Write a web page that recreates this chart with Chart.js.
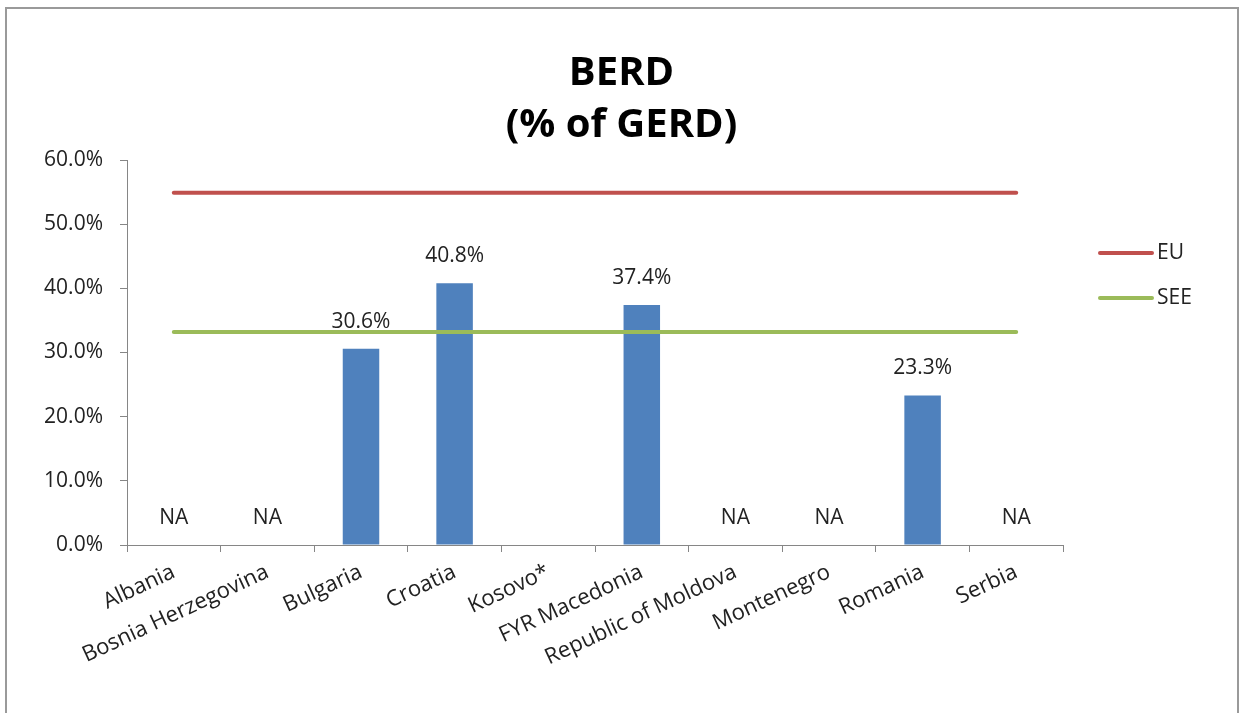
<!DOCTYPE html>
<html>
<head>
<meta charset="utf-8">
<title>BERD (% of GERD)</title>
<script src="https://cdn.jsdelivr.net/npm/chart.js@4.4.1/dist/chart.umd.min.js"></script>
<style>
  html, body { margin: 0; padding: 0; background: #fff; overflow: hidden; }
  .frame {
    position: absolute; left: 5px; top: 7px; width: 1230px; height: 720px;
    border: 2px solid #9a9a9a; border-bottom: none;
  }
  .wrap { position: absolute; left: 0; top: 0; width: 1243px; height: 713px; }
</style>
</head>
<body>
<div class="frame"></div>
<div class="wrap"><canvas id="berdChart"></canvas></div>
<script>
// categories and values
const countries = ['Albania', 'Bosnia Herzegovina', 'Bulgaria', 'Croatia', 'Kosovo*',
  'FYR Macedonia', 'Republic of Moldova', 'Montenegro', 'Romania', 'Serbia'];
const berdValues = [null, null, 30.6, 40.8, null, 37.4, null, null, 23.3, null];
const berdLabels = ['NA', 'NA', '30.6%', '40.8%', '', '37.4%', 'NA', 'NA', '23.3%', 'NA'];
const euValues = [54.9, 54.9, 54.9, 54.9, 54.9, 54.9, 54.9, 54.9, 54.9, 54.9];
const seeValues = [33.2, 33.2, 33.2, 33.2, 33.2, 33.2, 33.2, 33.2, 33.2, 33.2];
const yTicks = [0, 10, 20, 30, 40, 50, 60];

const axisGray = '#868686';
const textColor = '#222222';

Chart.defaults.font.family = "'Open Sans', sans-serif";
Chart.defaults.color = textColor;

// labels above the bars (and NA at the baseline)
const barLabels = {
  id: 'barLabels',
  afterDatasetsDraw(chart) {
    const { ctx, scales } = chart;
    ctx.save();
    ctx.font = "21px 'Open Sans', sans-serif";
    ctx.fillStyle = textColor;
    ctx.textAlign = 'center';
    ctx.textBaseline = 'middle';
    berdLabels.forEach((txt, i) => {
      if (!txt) return;
      const x = scales.x.getPixelForValue(i);
      const y = scales.y.getPixelForValue(berdValues[i] ?? 0) - 27;
      ctx.fillText(txt, x, y);
    });
    ctx.restore();
  }
};

// legend on the right, line samples like Excel
const lineLegend = {
  id: 'lineLegend',
  afterDraw(chart) {
    const { ctx } = chart;
    const items = chart.data.datasets.filter(d => d.type === 'line');
    ctx.save();
    ctx.font = "21px 'Open Sans', sans-serif";
    ctx.textBaseline = 'middle';
    items.forEach((d, i) => {
      const y = 253 + i * 45;
      ctx.strokeStyle = d.borderColor;
      ctx.lineWidth = 4;
      ctx.lineCap = 'round';
      ctx.beginPath();
      ctx.moveTo(1100, y);
      ctx.lineTo(1152, y);
      ctx.stroke();
      ctx.fillStyle = textColor;
      ctx.fillText(d.label, 1157, y);
    });
    ctx.restore();
  }
};

const ctx = document.getElementById('berdChart').getContext('2d');
new Chart(ctx, {
  type: 'bar',
  data: {
    labels: countries,
    datasets: [
      {
        type: 'line',
        label: 'EU',
        data: euValues,
        borderColor: '#C0504D',
        backgroundColor: '#C0504D',
        borderWidth: 4,
        borderCapStyle: 'round',
        pointRadius: 0,
        order: 0
      },
      {
        type: 'line',
        label: 'SEE',
        data: seeValues,
        borderColor: '#9BBB59',
        backgroundColor: '#9BBB59',
        borderWidth: 4,
        borderCapStyle: 'round',
        pointRadius: 0,
        order: 0
      },
      {
        label: 'BERD',
        data: berdValues,
        backgroundColor: '#4F81BD',
        barPercentage: 0.39,
        categoryPercentage: 1,
        order: 1
      }
    ]
  },
  options: {
    responsive: true,
    maintainAspectRatio: false,
    animation: false,
    layout: { padding: 0 },
    plugins: {
      legend: { display: false },
      tooltip: { enabled: false },
      title: {
        display: true,
        text: ['BERD', '(% of GERD)'],
        color: '#000',
        font: { size: 40, weight: 'bold', lineHeight: 1.3 },
        padding: { top: 48, bottom: 8 }
      }
    },
    scales: {
      x: {
        grid: { drawOnChartArea: false, offset: true, color: axisGray, tickLength: 7 },
        border: { color: axisGray },
        ticks: {
          autoSkip: false,
          minRotation: 25,
          maxRotation: 25,
          padding: 7,
          color: textColor,
          font: { size: 22 }
        },
        afterFit: (s) => { s.height = 168; }
      },
      y: {
        min: 0,
        max: 60,
        afterBuildTicks: (s) => { s.ticks = yTicks.map(v => ({ value: v })); },
        grid: { drawOnChartArea: false, color: axisGray, tickLength: 7 },
        border: { color: axisGray },
        ticks: {
          padding: 17,
          color: textColor,
          font: { size: 21 },
          callback: (v) => v.toFixed(1) + '%'
        },
        afterFit: (s) => { s.width = 127; }
      },
      // empty right-hand axis keeps room for the legend
      legendSpace: {
        position: 'right',
        min: 0,
        max: 60,
        grid: { display: false },
        border: { display: false },
        ticks: { display: false },
        afterFit: (s) => { s.width = 180; }
      }
    }
  },
  plugins: [barLabels, lineLegend]
});
</script>
</body>
</html>
